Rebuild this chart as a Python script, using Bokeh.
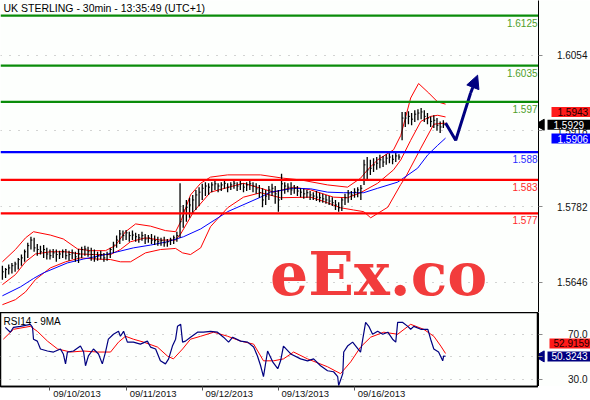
import math
from bokeh.plotting import figure
from bokeh.layouts import column, row
from bokeh.models import (Range1d, FixedTicker, Span, Label, Arrow, NormalHead,
                          NumeralTickFormatter)
from bokeh.embed import file_html
from bokeh.resources import INLINE

# ---------------- data ----------------
title_text = "UK STERLING - 30min - 13:35:49 (UTC+1)"

bar_idx = list(range(140))
high = [1.5676, 1.5672, 1.5678, 1.5681, 1.5683, 1.5690, 1.5696, 1.5705, 1.5717, 1.5728,
        1.5726, 1.5715, 1.5712, 1.5713, 1.5708, 1.5705, 1.5706, 1.5705, 1.5703, 1.5705,
        1.5706, 1.5703, 1.5705, 1.5701, 1.5706, 1.5710, 1.5712, 1.5710, 1.5708, 1.5705,
        1.5701, 1.5703, 1.5699, 1.5701, 1.5708, 1.5719, 1.5730, 1.5740, 1.5739, 1.5740,
        1.5737, 1.5739, 1.5735, 1.5733, 1.5737, 1.5733, 1.5731, 1.5733, 1.5730, 1.5728,
        1.5726, 1.5728, 1.5724, 1.5726, 1.5730, 1.5737, 1.5824, 1.5785, 1.5794, 1.5798,
        1.5803, 1.5812, 1.5817, 1.5823, 1.5826, 1.5824, 1.5826, 1.5828, 1.5824, 1.5826,
        1.5828, 1.5824, 1.5826, 1.5830, 1.5826, 1.5828, 1.5824, 1.5826, 1.5830, 1.5826,
        1.5824, 1.5821, 1.5815, 1.5812, 1.5819, 1.5823, 1.5819, 1.5812, 1.5841, 1.5826,
        1.5824, 1.5826, 1.5821, 1.5819, 1.5815, 1.5814, 1.5812, 1.5810, 1.5808, 1.5810,
        1.5807, 1.5805, 1.5803, 1.5801, 1.5799, 1.5794, 1.5790, 1.5798, 1.5805, 1.5812,
        1.5810, 1.5815, 1.5817, 1.5821, 1.5866, 1.5871, 1.5866, 1.5869, 1.5871, 1.5875,
        1.5873, 1.5876, 1.5878, 1.5875, 1.5880, 1.5876, 1.5952, 1.5952, 1.5953, 1.5950,
        1.5955, 1.5957, 1.5959, 1.5955, 1.5950, 1.5944, 1.5946, 1.5941, 1.5935, 1.5937]
low = [1.5651, 1.5654, 1.5660, 1.5662, 1.5665, 1.5669, 1.5676, 1.5683, 1.5690, 1.5705,
       1.5701, 1.5694, 1.5696, 1.5690, 1.5687, 1.5687, 1.5690, 1.5683, 1.5688, 1.5690,
       1.5687, 1.5685, 1.5688, 1.5683, 1.5681, 1.5690, 1.5694, 1.5692, 1.5685, 1.5683,
       1.5685, 1.5687, 1.5683, 1.5685, 1.5690, 1.5699, 1.5708, 1.5715, 1.5721, 1.5722,
       1.5719, 1.5722, 1.5719, 1.5717, 1.5721, 1.5715, 1.5717, 1.5715, 1.5713, 1.5712,
       1.5712, 1.5710, 1.5710, 1.5713, 1.5715, 1.5719, 1.5726, 1.5744, 1.5755, 1.5762,
       1.5769, 1.5776, 1.5783, 1.5794, 1.5801, 1.5803, 1.5808, 1.5812, 1.5808, 1.5810,
       1.5814, 1.5808, 1.5812, 1.5814, 1.5810, 1.5812, 1.5808, 1.5810, 1.5812, 1.5808,
       1.5805, 1.5798, 1.5781, 1.5785, 1.5794, 1.5801, 1.5787, 1.5773, 1.5794, 1.5805,
       1.5808, 1.5803, 1.5805, 1.5801, 1.5799, 1.5796, 1.5798, 1.5794, 1.5794, 1.5792,
       1.5790, 1.5789, 1.5787, 1.5785, 1.5783, 1.5776, 1.5773, 1.5774, 1.5785, 1.5789,
       1.5794, 1.5798, 1.5799, 1.5794, 1.5821, 1.5830, 1.5839, 1.5844, 1.5848, 1.5851,
       1.5853, 1.5857, 1.5860, 1.5858, 1.5862, 1.5866, 1.5901, 1.5925, 1.5930, 1.5928,
       1.5934, 1.5937, 1.5939, 1.5934, 1.5930, 1.5925, 1.5923, 1.5918, 1.5914, 1.5923]
close = [1.5665, 1.5669, 1.5672, 1.5676, 1.5679, 1.5687, 1.5690, 1.5701, 1.5712, 1.5722,
         1.5708, 1.5705, 1.5701, 1.5705, 1.5697, 1.5694, 1.5699, 1.5696, 1.5697, 1.5701,
         1.5694, 1.5696, 1.5699, 1.5692, 1.5697, 1.5705, 1.5706, 1.5701, 1.5696, 1.5690,
         1.5694, 1.5696, 1.5690, 1.5696, 1.5705, 1.5713, 1.5722, 1.5733, 1.5730, 1.5735,
         1.5730, 1.5731, 1.5728, 1.5726, 1.5730, 1.5724, 1.5726, 1.5722, 1.5721, 1.5719,
         1.5721, 1.5717, 1.5719, 1.5722, 1.5726, 1.5730, 1.5755, 1.5776, 1.5781, 1.5785,
         1.5794, 1.5803, 1.5808, 1.5815, 1.5819, 1.5817, 1.5821, 1.5823, 1.5819, 1.5821,
         1.5824, 1.5817, 1.5821, 1.5824, 1.5819, 1.5823, 1.5817, 1.5821, 1.5823, 1.5819,
         1.5814, 1.5807, 1.5794, 1.5801, 1.5812, 1.5815, 1.5805, 1.5794, 1.5823, 1.5819,
         1.5817, 1.5812, 1.5815, 1.5810, 1.5808, 1.5805, 1.5807, 1.5803, 1.5801, 1.5799,
         1.5798, 1.5796, 1.5794, 1.5792, 1.5789, 1.5785, 1.5780, 1.5794, 1.5798, 1.5805,
         1.5803, 1.5808, 1.5812, 1.5815, 1.5857, 1.5848, 1.5851, 1.5857, 1.5860, 1.5866,
         1.5862, 1.5869, 1.5871, 1.5867, 1.5873, 1.5871, 1.5941, 1.5941, 1.5944, 1.5939,
         1.5948, 1.5950, 1.5952, 1.5944, 1.5941, 1.5935, 1.5937, 1.5928, 1.5925, 1.5929]

# long moving average (blue)
ma_x = [0, 5.7, 9.8, 12.9, 20.5, 25.6, 30.9, 36.3, 41.3, 46.7, 52, 57.1, 62.5, 71, 81.4,
        84.5, 91.8, 97.2, 102.5, 107.6, 113.9, 118.3, 124.6, 130.9, 134.1, 137.2, 139.7]
ma_blue = [1.5622, 1.5638, 1.5653, 1.5663, 1.5681, 1.5688, 1.5694, 1.5701, 1.5708, 1.5713,
           1.5719, 1.5728, 1.5742, 1.5773, 1.5799, 1.5808, 1.5815, 1.5814, 1.5808, 1.5807,
           1.5807, 1.5815, 1.5826, 1.5851, 1.5875, 1.5892, 1.5905]

# Bollinger bands (red)
bbu_x = [0, 4.1, 7.3, 9.8, 15.1, 19.2, 23.7, 27.8, 32.5, 35.6, 38.8, 42, 46.7, 51.4, 54.6,
         56.2, 59.3, 62.5, 65.6, 71, 81.4, 88.6, 94, 102.5, 108.8, 112.9, 115.1, 118.3,
         123.3, 125.6, 128.7, 131.2, 134.4, 137.2, 139.7]
bb_upper = [1.5683, 1.5705, 1.5726, 1.5737, 1.5731, 1.5724, 1.5706, 1.5703, 1.5703, 1.5712,
            1.5737, 1.5751, 1.5747, 1.5739, 1.5737, 1.5755, 1.5803, 1.5824, 1.5835, 1.5839,
            1.5839, 1.5833, 1.5830, 1.5821, 1.5817, 1.5833, 1.5848, 1.5866, 1.5884, 1.5910,
            1.5977, 1.6003, 1.5986, 1.5970, 1.5966]
bbm_x = [0, 4.1, 7.3, 10.4, 15.1, 19.9, 24.6, 29.3, 34.1, 37.2, 40.4, 45.1, 49.8, 54.6,
         56.2, 60.3, 65.6, 76, 81.4, 85.5, 91.8, 97.2, 104.4, 108.8, 112.9, 118.3, 123.3,
         125.6, 128.7, 131.9, 135, 137.2, 139.7]
bb_mid = [1.5642, 1.5660, 1.5683, 1.5697, 1.5701, 1.5701, 1.5697, 1.5696, 1.5696, 1.5705,
          1.5719, 1.5726, 1.5722, 1.5722, 1.5733, 1.5773, 1.5808, 1.5824, 1.5815, 1.5808,
          1.5817, 1.5812, 1.5799, 1.5798, 1.5807, 1.5824, 1.5848, 1.5866, 1.5901, 1.5935,
          1.5944, 1.5946, 1.5943]
bbl_x = [0, 4.1, 7.3, 10.4, 15.1, 19.9, 24.6, 29.3, 34.1, 37.2, 40.4, 45.1, 49.8, 54.6,
         56.8, 59.3, 62.5, 65.6, 71, 76, 81.4, 87.7, 97.2, 102.5, 106.6, 110.7, 113.9,
         116.1, 121.5, 125.6, 127.1, 131.9, 136, 139.7]
bb_lower = [1.5606, 1.5615, 1.5629, 1.5651, 1.5672, 1.5683, 1.5690, 1.5688, 1.5687, 1.5683,
            1.5683, 1.5699, 1.5705, 1.5707, 1.5699, 1.5696, 1.5708, 1.5746, 1.5780, 1.5799,
            1.5807, 1.5798, 1.5799, 1.5789, 1.5780, 1.5776, 1.5773, 1.5762, 1.5781, 1.5822,
            1.5835, 1.5887, 1.5930, 1.5932]

# horizontal levels
levels = [1.6125, 1.6035, 1.597, 1.588, 1.583, 1.577]
level_text = ["1.6125", "1.6035", "1.597", "1.588", "1.583", "1.577"]
level_line_colors = ["#0a8c0a", "#0a8c0a", "#0a8c0a", "#0000ff", "#ff0000", "#ff0000"]
level_text_colors = ["#4f9e2a", "#4f9e2a", "#4f9e2a", "#2a2aff", "#ff2a2a", "#ff2a2a"]

# forecast arrow (hand-drawn annotation)
arrow_x = [139.7, 142.9, 147.6]
arrow_y = [1.5932, 1.5901, 1.5986]
arrow_tip = (149.8, 1.6018)

# last values shown on the axis
last_bb = 1.5943
last_close = 1.5929
last_ma = 1.5906

# RSI14 and its 9MA
rsi_x = [0.9, 2.5, 3.5, 5.7, 8.8, 9.5, 9.8, 11, 12, 14.2, 16.1, 18.3, 19.2, 19.9, 20.5, 22.4,
         24.6, 25.6, 26.2, 27.1, 28.7, 30.3, 31.5, 32.5, 33.4, 35, 36.6, 37.2, 38.2, 39.4,
         41.3, 43.5, 45.7, 46.7, 48.3, 49.8, 51.4, 52.4, 53.6, 54.6, 55.2, 56.2, 56.8, 57.7,
         59.3, 61.5, 63.4, 65.6, 67.8, 69.7, 71.3, 72.6, 75.1, 77.3, 79.2, 80.4, 81.4, 82.3,
         83.6, 85.2, 86.8, 87.7, 88.6, 90.9, 94, 96.2, 98.1, 100.3, 102.5, 104.4, 105.7, 106,
         107.3, 107.6, 108.8, 110.4, 111.4, 112.9, 113.6, 114.5, 115.5, 116.7, 118.3, 119.9,
         121.5, 123, 124, 124.6, 126.2, 127.8, 128.7, 129.7, 131.9, 134.1, 135, 136, 137.5,
         138.8, 139.1, 139.7]
rsi = [76.1, 71.8, 76.1, 77.0, 78.8, 76.1, 65.6, 63.9, 56.9, 55.1, 54.2, 56.9, 52.5, 43.7,
       54.2, 55.1, 59.5, 54.2, 42.0, 50.7, 56.9, 52.5, 43.7, 54.2, 65.6, 70.0, 72.6, 68.2,
       72.6, 63.0, 63.0, 61.2, 63.9, 58.6, 56.9, 46.4, 43.7, 48.1, 59.5, 65.6, 77.0, 78.8,
       63.0, 63.9, 67.4, 71.8, 71.8, 72.6, 71.8, 67.4, 63.0, 67.4, 63.9, 63.0, 58.6, 50.7,
       42.0, 32.3, 55.1, 45.5, 39.4, 46.4, 59.5, 52.5, 48.1, 46.4, 48.1, 42.0, 37.6, 36.7,
       32.3, 24.5, 35.0, 54.2, 59.5, 63.0, 59.5, 54.2, 65.6, 80.5, 77.0, 70.0, 72.6, 70.0,
       71.8, 65.6, 63.0, 80.5, 80.5, 77.0, 74.4, 77.0, 74.4, 74.4, 65.6, 56.9, 54.2, 46.4,
       50.7, 50.3243]
rsi_ma_x = [0.3, 3.5, 8.8, 11, 14.2, 17.4, 21.5, 25.6, 30, 34.1, 36.6, 38.8, 41.3, 44.5,
            48.9, 52, 53.9, 56.8, 59.3, 62.5, 66.6, 71, 75.1, 79.2, 82.3, 85.5, 88.6, 91.8,
            96.2, 102.5, 106.6, 109.8, 112.9, 116.1, 120.2, 124.6, 128.7, 132.8, 136, 138.2,
            139.7]
rsi_ma = [65.6, 74.4, 77.0, 72.6, 63.9, 56.9, 54.2, 55.1, 54.2, 54.2, 63.0, 68.2, 65.6, 63.0,
          58.6, 50.7, 48.1, 56.9, 65.6, 68.2, 71.8, 68.2, 63.9, 61.2, 46.4, 46.4, 48.1, 54.2,
          48.1, 41.1, 35.0, 45.5, 58.6, 67.4, 71.8, 70.0, 78.8, 74.4, 68.2, 59.5, 52.9159]
last_rsi_ma = 52.9159
last_rsi = 50.3243

date_ticks = [15, 39, 63, 87, 111]
date_labels = ["09/10/2013", "09/11/2013", "09/12/2013", "09/13/2013", "09/16/2013"]
price_ticks = [1.5646, 1.5782, 1.5918, 1.6054]
rsi_ticks = [30, 50, 70]

# ---------------- layout constants ----------------
FONT = "Liberation Sans"
FW, SW = 538, 52          # frame widths: chart / right value column
F1, F2 = 312, 74          # frame heights: price / RSI
XR = Range1d(-0.6, 169)
YR1 = Range1d(1.5592, 1.6152)
YR2 = Range1d(23.6, 89.3)
SXR = Range1d(0, SW)
BG = "#fdfffd"
GRID = "#a8a8a8"


def base_fig(fw, fh, xr, yr, **kw):
    f = figure(frame_width=fw, frame_height=fh, x_range=xr, y_range=yr,
               output_backend="svg", toolbar_location=None,
               background_fill_color=BG, border_fill_color="white",
               min_border_left=0, min_border_right=0, min_border_top=0, min_border_bottom=0,
               **kw)
    f.outline_line_color = None
    return f


def value_axis(f, ticks, fmt):
    # axis line at the left edge of the value column; labels sit to its right
    ax = f.yaxis[0]
    ax.ticker = FixedTicker(ticks=ticks)
    ax.formatter = NumeralTickFormatter(format=fmt)
    ax.axis_line_color = "black"
    ax.axis_line_width = 1
    ax.major_tick_in = 4
    ax.major_tick_out = 0
    ax.major_tick_line_color = "#8a8a8a"
    ax.minor_tick_line_color = None
    ax.major_label_standoff = -49
    ax.major_label_text_font = FONT
    ax.major_label_text_font_size = "10px"
    ax.major_label_text_color = "#111111"
    f.grid.visible = False


def badge(f, y, txt, bg, fg, left, pad, dy=0, pointer=False):
    if pointer:
        f.scatter(x=[2.5], y=[y], marker="triangle", angle=math.pi / 2, size=11,
                  fill_color=bg, line_color=bg)
    f.add_layout(Label(x=left + pad, y=y, y_offset=dy, text=txt, text_align="left",
                       text_baseline="middle", text_font=FONT, text_font_size="10px",
                       text_color=fg, background_fill_color=bg, padding=(pad, 1)))


# ---------------- main price panel ----------------
p1 = base_fig(FW, F1, XR, YR1, x_axis_location=None, y_axis_location=None)
p1.xgrid.visible = False
p1.ygrid.ticker = FixedTicker(ticks=price_ticks)
p1.ygrid.grid_line_color = GRID
p1.ygrid.grid_line_dash = "1 8"

p1.add_layout(Label(x=118.6, y=1.5661, text="eEx.co", text_align="center",
                    text_baseline="middle", text_font="DejaVu Serif", text_font_style="bold",
                    text_font_size="60px", text_color="#f23c3c", level="underlay"))

p1.line(bbu_x, bb_upper, line_color="#ff0000", line_width=1)
p1.line(bbm_x, bb_mid, line_color="#ff0000", line_width=1)
p1.line(bbl_x, bb_lower, line_color="#ff0000", line_width=1)
p1.line(ma_x, ma_blue, line_color="#0000ff", line_width=1)

p1.segment(x0=bar_idx, y0=low, x1=bar_idx, y1=high, line_color="black", line_width=1.3)
p1.segment(x0=bar_idx, y0=close, x1=[i + 0.45 for i in bar_idx], y1=close,
           line_color="black", line_width=1)

for lv, txt, lc, tc in zip(levels, level_text, level_line_colors, level_text_colors):
    p1.add_layout(Span(location=lv, dimension="width", line_color=lc, line_width=2.2))
    p1.add_layout(Label(x=169, y=lv, text=txt, x_offset=-1, y_offset=-3,
                        text_align="right", text_baseline="top", text_font=FONT,
                        text_font_size="10px", text_color=tc))

p1.line(arrow_x, arrow_y, line_color="#000080", line_width=3)
p1.add_layout(Arrow(end=NormalHead(size=13, fill_color="#000080", line_color="#000080"),
                    x_start=arrow_x[-1], y_start=arrow_y[-1],
                    x_end=arrow_tip[0], y_end=arrow_tip[1],
                    line_color="#000080", line_width=3))

p1.add_layout(Label(x=-0.6, y=1.6152, x_offset=3, y_offset=-1, text=title_text,
                    text_baseline="top", text_font=FONT, text_font_size="10.5px",
                    text_color="black"))

# value column next to the price panel
s1 = base_fig(SW, F1, SXR, YR1, x_axis_location=None, y_axis_location="left")
value_axis(s1, price_ticks, "0.0000")
badge(s1, last_bb, f"{last_bb:.4f}", "#ff1a1a", "#200000", left=7, pad=6, dy=5)
badge(s1, last_close, f"{last_close:.4f}", "black", "white", left=3, pad=6, pointer=True)
badge(s1, last_ma, f"{last_ma:.4f}", "#0000ff", "white", left=7, pad=6, dy=-1)

# ---------------- RSI panel ----------------
p2 = base_fig(FW, F2, XR, YR2, y_axis_location=None)
p2.outline_line_color = "black"
p2.outline_line_width = 1.5
p2.xgrid.visible = False
p2.ygrid.ticker = FixedTicker(ticks=rsi_ticks)
p2.ygrid.grid_line_color = GRID
p2.ygrid.grid_line_dash = "1 8"

# date axis: tick marks at the day starts, labels written just to their right
label_pos = [t + 8.5 for t in date_ticks]
xa = p2.xaxis[0]
xa.ticker = FixedTicker(ticks=label_pos, minor_ticks=date_ticks)
xa.major_label_overrides = {p: l for p, l in zip(label_pos, date_labels)}
xa.axis_line_color = "black"
xa.axis_line_width = 1.5
xa.major_tick_line_color = None
xa.major_tick_in = 0
xa.major_tick_out = 0
xa.minor_tick_line_color = "#555555"
xa.minor_tick_in = 0
xa.minor_tick_out = 4
xa.major_label_standoff = -3
xa.major_label_text_font = FONT
xa.major_label_text_font_size = "9.5px"
xa.major_label_text_color = "#111111"

p2.line(rsi_ma_x, rsi_ma, line_color="#ff0000", line_width=1)
p2.line(rsi_x, rsi, line_color="#000080", line_width=1.2)

p2.add_layout(Label(x=-0.6, y=89.3, x_offset=3, y_offset=-3, text="RSI14 - 9MA",
                    text_baseline="top", text_font=FONT, text_font_size="10px",
                    text_color="black"))

s2 = base_fig(SW, F2, SXR, YR2, x_axis_location=None, y_axis_location="left")
value_axis(s2, rsi_ticks, "0.0")
badge(s2, last_rsi_ma, f"{last_rsi_ma:.4f}", "#ff1a1a", "#200000", left=7, pad=4, dy=10)
badge(s2, last_rsi, f"{last_rsi:.4f}", "#000080", "white", left=5, pad=4, pointer=True)

layout = column(row(p1, s1), row(p2, s2))
open("out.html", "w").write(file_html(layout, INLINE))
